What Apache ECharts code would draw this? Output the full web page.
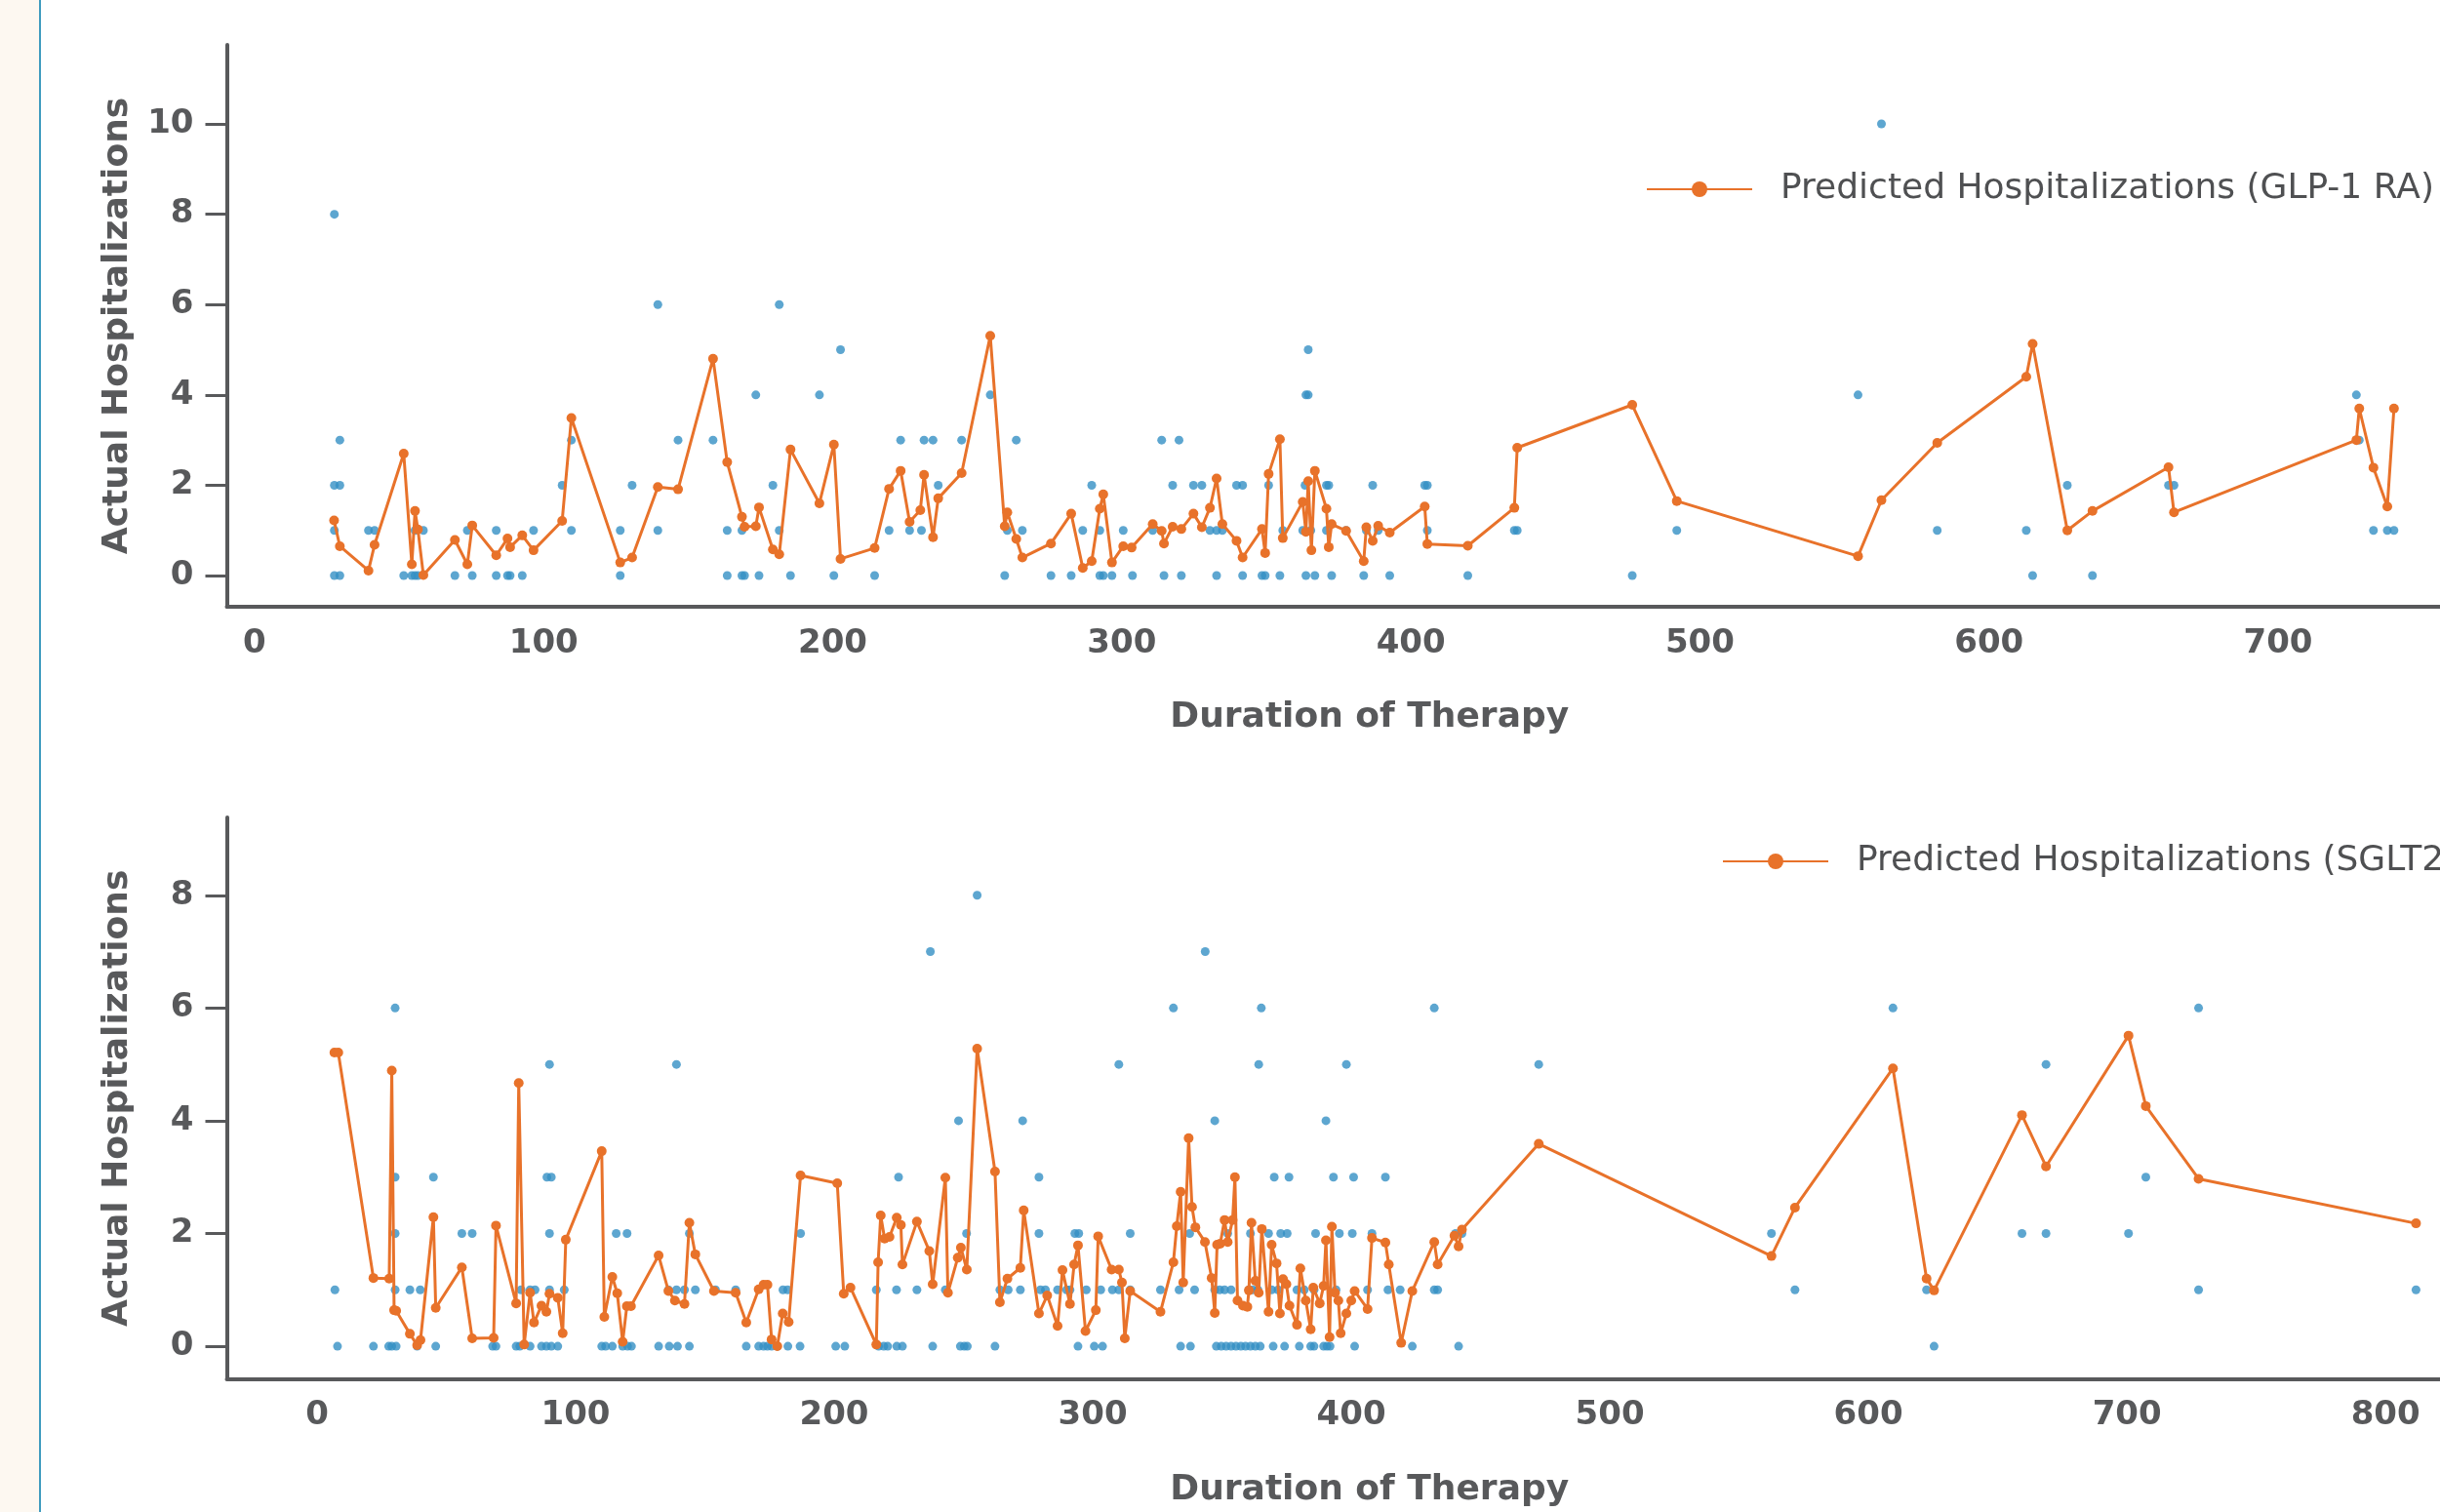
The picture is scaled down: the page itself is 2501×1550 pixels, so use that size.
<!DOCTYPE html>
<html>
<head>
<meta charset="utf-8">
<title>Actual vs Predicted Hospitalizations</title>
<script src="https://cdn.jsdelivr.net/npm/echarts@6/dist/echarts.min.js"></script>
<style>
    html, body { margin: 0; padding: 0; background: #ffffff; }
    #strip { position: absolute; left: 0; top: 0; width: 40px; height: 1550px; background: #fdf8f1; border-right: 2px solid #3f9bbf; }
    #main { position: absolute; left: 0; top: 0; width: 2501px; height: 1550px; }
</style>
</head>
<body>
<div id="strip"></div>
<div id="main"></div>
<script>
// GLP-1 RA - predicted line
var glpPredDays = [
    27.5, 29.5, 39.4, 41.5, 51.6, 54.4, 55.5, 56.5, 58.4, 69.3,
    73.6, 75.3, 83.6, 87.5, 88.4, 92.6, 96.5, 106.4, 109.6, 126.5,
    130.6, 139.5, 146.5, 158.6, 163.5, 168.6, 169.5, 173.4, 174.5, 179.3,
    181.5, 185.4, 195.4, 200.4, 202.7, 214.5, 219.5, 223.5, 226.6, 230.3,
    231.6, 234.7, 236.5, 244.6, 254.5, 259.5, 260.4, 263.5, 265.6, 275.5,
    282.5, 286.5, 289.6, 292.4, 293.6, 296.6, 300.5, 303.4, 310.7, 313.8,
    314.6, 317.6, 320.6, 324.8, 327.7, 330.5, 332.8, 334.8, 339.7, 341.8,
    348.5, 349.6, 350.8, 354.7, 355.7, 362.6, 363.7, 364.5, 365.6, 366.8,
    370.8, 371.6, 372.6, 377.6, 383.7, 384.6, 386.8, 388.7, 392.7, 404.8,
    405.7, 419.7, 435.8, 436.8, 476.6, 492.0, 554.7, 562.8, 582.1, 612.9,
    615.1, 627.1, 635.8, 662.1, 664.0, 727.1, 728.1, 733.0, 737.8, 740.1
];
var glpPredValues = [
    1.22, 0.65, 0.11, 0.68, 2.70, 0.25, 1.43, 1.02, 0.01, 0.79,
    0.25, 1.11, 0.45, 0.82, 0.63, 0.89, 0.56, 1.21, 3.49, 0.29,
    0.40, 1.96, 1.91, 4.80, 2.51, 1.30, 1.08, 1.09, 1.51, 0.58,
    0.47, 2.79, 1.60, 2.90, 0.37, 0.61, 1.92, 2.32, 1.19, 1.45,
    2.23, 0.85, 1.71, 2.27, 5.31, 1.09, 1.40, 0.81, 0.40, 0.71,
    1.37, 0.17, 0.32, 1.48, 1.80, 0.29, 0.65, 0.62, 1.14, 0.99,
    0.71, 1.08, 1.03, 1.37, 1.07, 1.50, 2.15, 1.14, 0.77, 0.40,
    1.03, 0.50, 2.25, 3.02, 0.83, 1.63, 0.97, 2.09, 0.56, 2.32,
    1.48, 0.63, 1.14, 0.99, 0.32, 1.07, 0.77, 1.10, 0.95, 1.53,
    0.70, 0.66, 1.50, 2.83, 3.78, 1.65, 0.43, 1.67, 2.94, 4.40,
    5.13, 1.00, 1.43, 2.40, 1.40, 3.00, 3.70, 2.39, 1.53, 3.70
];
// GLP-1 RA - actual points
var glpActualDays = [
    27.6, 27.6, 27.6, 27.6, 29.5, 29.5, 29.5, 39.4, 41.5, 51.6,
    54.4, 55.5, 55.5, 56.5, 58.4, 69.3, 73.6, 75.3, 83.6, 83.6,
    87.5, 88.4, 92.6, 96.5, 106.4, 109.6, 109.6, 126.5, 126.5, 130.6,
    139.5, 139.5, 146.5, 158.6, 163.5, 163.5, 168.6, 168.6, 169.5, 173.4,
    174.5, 179.3, 181.5, 181.5, 185.4, 195.4, 200.4, 202.7, 214.5, 219.5,
    223.5, 226.6, 230.7, 231.6, 234.7, 236.5, 244.6, 254.5, 259.5, 260.4,
    263.5, 265.6, 275.5, 282.5, 286.5, 289.6, 292.4, 292.4, 293.6, 296.6,
    300.5, 303.7, 310.7, 313.8, 314.6, 317.6, 319.8, 320.6, 324.8, 327.7,
    330.5, 332.8, 332.8, 334.8, 339.7, 341.8, 341.8, 348.5, 349.6, 350.8,
    354.7, 355.7, 362.6, 363.4, 363.7, 363.7, 364.5, 364.5, 365.4, 366.8,
    370.8, 370.8, 371.6, 372.6, 377.6, 383.7, 384.6, 386.8, 388.7, 392.7,
    404.8, 405.7, 405.7, 419.7, 435.8, 436.8, 476.6, 492.0, 554.7, 562.8,
    582.1, 612.9, 615.1, 627.1, 635.8, 662.1, 664.0, 727.1, 728.1, 733.0,
    737.8, 740.1
];
var glpActualCounts = [
    8, 2, 1, 0, 3, 2, 0, 1, 1, 0,
    0, 0, 1, 0, 1, 0, 1, 0, 1, 0,
    0, 0, 0, 1, 2, 3, 1, 1, 0, 2,
    6, 1, 3, 3, 1, 0, 0, 1, 0, 4,
    0, 2, 6, 1, 0, 4, 0, 5, 0, 1,
    3, 1, 1, 3, 3, 2, 3, 4, 0, 1,
    3, 1, 0, 0, 1, 2, 1, 0, 0, 0,
    1, 0, 1, 3, 0, 2, 3, 0, 2, 2,
    1, 1, 0, 1, 2, 2, 0, 0, 0, 2,
    0, 1, 1, 2, 4, 0, 5, 4, 1, 0,
    2, 1, 2, 0, 1, 0, 1, 2, 1, 0,
    2, 2, 1, 0, 1, 1, 0, 1, 4, 10,
    1, 1, 0, 2, 0, 2, 2, 4, 3, 1,
    1, 1
];

// SGLT2 - predicted line
var sgltPredDays = [
    6.7, 8.2, 21.8, 27.9, 28.9, 29.8, 30.6, 35.9, 38.7, 40.0,
    45.0, 45.9, 56.0, 60.0, 68.3, 69.2, 77.0, 78.0, 80.1, 82.4,
    83.9, 86.8, 88.7, 89.9, 93.1, 95.0, 96.2, 110.1, 111.1, 114.2,
    116.1, 118.2, 119.8, 121.4, 132.1, 135.9, 138.4, 142.1, 144.0, 146.3,
    153.5, 161.9, 166.0, 170.8, 172.7, 174.2, 175.8, 178.0, 180.1, 182.4,
    187.0, 201.2, 203.7, 206.3, 216.3, 217.0, 218.0, 219.5, 221.4, 224.2,
    225.8, 226.4, 232.0, 236.8, 238.1, 243.0, 244.0, 247.8, 249.0, 251.3,
    255.3, 262.2, 264.1, 267.0, 272.0, 273.3, 279.2, 282.4, 286.4, 288.3,
    291.2, 292.8, 294.3, 297.2, 301.2, 302.1, 307.3, 310.1, 311.3, 312.4,
    314.5, 326.2, 331.2, 332.5, 334.0, 335.0, 337.1, 338.4, 339.7, 343.4,
    346.0, 347.2, 348.1, 349.3, 351.0, 352.2, 354.1, 355.0, 356.0, 358.1,
    359.8, 360.4, 361.4, 362.9, 364.2, 365.4, 368.0, 369.2, 371.1, 372.4,
    373.6, 374.9, 376.1, 379.0, 380.3, 382.4, 384.3, 385.3, 387.8, 389.3,
    390.2, 391.6, 392.5, 393.7, 395.0, 395.9, 398.1, 400.0, 401.3, 406.3,
    408.0, 413.2, 414.5, 419.3, 423.6, 432.1, 433.4, 439.9, 441.5, 442.8,
    472.5, 562.5, 571.6, 609.5, 622.5, 625.4, 659.4, 668.7, 700.6, 707.3,
    727.7, 811.8
];
var sgltPredValues = [
    5.21, 5.21, 1.21, 1.20, 4.89, 0.64, 0.63, 0.22, 0.02, 0.11,
    2.29, 0.68, 1.40, 0.14, 0.15, 2.14, 0.76, 4.67, 0.03, 0.95,
    0.42, 0.72, 0.61, 0.93, 0.86, 0.23, 1.89, 3.46, 0.52, 1.23,
    0.94, 0.08, 0.71, 0.71, 1.61, 0.98, 0.81, 0.75, 2.19, 1.63,
    0.98, 0.95, 0.42, 1.01, 1.09, 1.09, 0.12, 0.00, 0.58, 0.43,
    3.03, 2.89, 0.93, 1.04, 0.03, 1.49, 2.32, 1.91, 1.94, 2.28,
    2.15, 1.45, 2.21, 1.69, 1.10, 2.99, 0.95, 1.57, 1.75, 1.36,
    5.28, 3.10, 0.78, 1.20, 1.39, 2.41, 0.58, 0.90, 0.36, 1.35,
    0.75, 1.45, 1.79, 0.27, 0.64, 1.95, 1.36, 1.36, 1.13, 0.14,
    0.98, 0.61, 1.49, 2.13, 2.74, 1.13, 3.69, 2.47, 2.11, 1.85,
    1.21, 0.59, 1.80, 1.82, 2.24, 1.85, 2.24, 3.00, 0.81, 0.72,
    0.70, 0.99, 2.19, 1.16, 0.95, 2.08, 0.61, 1.80, 1.47, 0.58,
    1.19, 1.10, 0.72, 0.38, 1.38, 0.81, 0.30, 1.04, 0.76, 1.07,
    1.88, 0.16, 2.12, 0.95, 0.81, 0.23, 0.58, 0.81, 0.98, 0.66,
    1.92, 1.84, 1.45, 0.06, 0.98, 1.85, 1.45, 1.96, 1.77, 2.07,
    3.59, 1.60, 2.46, 4.93, 1.20, 0.99, 4.10, 3.19, 5.51, 4.26,
    2.97, 2.18
];
// SGLT2 - actual points
var sgltActualDays = [
    6.9, 7.9, 21.8, 27.7, 28.9, 30.2, 30.2, 30.2, 30.2, 30.6,
    35.9, 38.7, 39.9, 45.0, 45.9, 56.0, 60.0, 67.9, 69.2, 77.0,
    78.4, 78.9, 82.4, 82.4, 84.3, 86.8, 88.7, 88.9, 89.9, 89.9,
    89.9, 90.6, 90.6, 93.1, 95.6, 110.1, 111.6, 114.2, 115.7, 118.2,
    119.9, 120.1, 121.6, 132.1, 135.9, 136.2, 139.0, 139.0, 139.4, 142.1,
    144.0, 144.0, 146.3,
    154.1, 161.9, 166.0, 170.8, 172.7, 174.2, 175.8, 178.0, 180.2, 182.0,
    182.1, 186.8, 187.0, 200.6, 204.1, 216.3, 217.2, 219.2, 220.7, 224.1,
    224.2, 224.9, 226.4, 232.0, 237.2, 238.1, 243.0, 248.1, 248.8, 250.3,
    251.2, 251.5, 255.3, 262.2, 264.1, 267.3, 272.0, 272.9, 279.2, 279.2,
    279.8, 281.7, 286.4, 289.9, 291.2, 293.1, 294.3, 294.6, 297.5, 300.6,
    303.1,
    303.8, 307.6, 310.1, 310.1, 314.5, 314.5, 326.2, 331.2, 333.4, 334.0,
    337.5, 337.8, 339.4, 343.5, 347.2, 347.2, 347.8, 349.1, 349.7, 351.0,
    351.6, 352.2, 353.5, 353.5, 355.4, 357.3, 359.1, 360.4, 361.0, 361.0,
    361.9, 362.9, 363.9, 364.2, 364.8, 365.2, 368.0, 369.2, 369.8, 370.2,
    371.7, 372.7, 374.2, 375.2, 375.9, 379.0, 379.9, 381.8, 384.3, 385.6,
    385.6, 386.2, 389.3, 390.2, 390.6, 391.8, 393.1, 394.1, 395.4, 398.1,
    400.4, 400.9, 401.3, 406.3, 408.0, 413.2, 414.2, 418.9, 423.6, 432.1,
    432.1, 433.4, 440.3, 441.5, 442.8,
    472.5, 562.5, 571.6, 609.5, 622.5, 625.4, 659.4, 668.7, 668.7, 700.6,
    707.3, 727.7, 727.7, 811.8
];
var sgltActualCounts = [
    1, 0, 0, 0, 0, 6, 3, 2, 1, 0,
    1, 0, 1, 3, 0, 2, 2, 0, 0, 0,
    0, 1, 1, 0, 1, 0, 0, 3, 5, 2,
    1, 3, 0, 0, 1, 0, 0, 0, 2, 0,
    2, 0, 0, 0, 1, 0, 5, 1, 0, 1,
    2, 0, 1,
    1, 1, 0, 0, 0, 0, 0, 0, 1, 1,
    0, 0, 2, 0, 0, 1, 0, 0, 0, 1,
    0, 3, 0, 1, 7, 0, 1, 4, 0, 0,
    2, 0, 8, 0, 1, 1, 1, 4, 3, 2,
    1, 1, 1, 1, 1, 2, 0, 2, 1, 0,
    1,
    0, 1, 5, 1, 2, 1, 1, 6, 1, 0,
    2, 0, 1, 7, 4, 1, 0, 1, 0, 1,
    0, 2, 1, 0, 0, 0, 0, 1, 2, 0,
    1, 0, 1, 5, 0, 6, 2, 1, 0, 3,
    1, 2, 0, 2, 3, 1, 0, 1, 0, 1,
    0, 2, 0, 4, 0, 0, 3, 1, 2, 5,
    2, 3, 0, 1, 2, 3, 1, 1, 0, 6,
    1, 1, 2, 0, 2,
    5, 2, 1, 6, 1, 0, 2, 5, 2, 2,
    3, 6, 1, 1
];

// tick labels
var topXTicks = [0, 100, 200, 300, 400, 500, 600, 700];
var topYTicks = [0, 2, 4, 6, 8, 10];
var bottomXTicks = [0, 100, 200, 300, 400, 500, 600, 700, 800];
var bottomYTicks = [0, 2, 4, 6, 8];

var glpName = 'Predicted Hospitalizations (GLP-1 RA)';
var sgltName = 'Predicted Hospitalizations (SGLT2i)';

var grey = '#58595b';
var blue = '#3590c4';
var orange = '#e8722a';
var font = '"DejaVu Sans", sans-serif';

//把两个数组拼成 [x, y]
function pairs(xs, ys) {
    var out = [];
    for (var i = 0; i < xs.length; i++) {
        out.push([xs[i], ys[i]]);
    }
    return out;
}

function makeXAxis(gridIndex, min, max, ticks) {
    return {
        gridIndex: gridIndex,
        type: 'value',
        min: min,
        max: max,
        name: 'Duration of Therapy',
        nameLocation: 'middle',
        nameGap: 96,
        nameTextStyle: { color: grey, fontSize: 36, fontWeight: 'bold', fontFamily: font },
        axisLine: { show: true, onZero: false, lineStyle: { color: grey, width: 4 } },
        axisTick: { show: false },
        axisLabel: { customValues: ticks, margin: 21, color: grey, fontSize: 34, fontWeight: 'bold', fontFamily: font },
        splitLine: { show: false }
    };
}

function makeYAxis(gridIndex, min, max, ticks) {
    return {
        gridIndex: gridIndex,
        type: 'value',
        min: min,
        max: max,
        name: 'Actual Hospitalizations',
        nameLocation: 'middle',
        nameGap: 94,
        nameTextStyle: { color: grey, fontSize: 36, fontWeight: 'bold', fontFamily: font },
        axisLine: { show: true, onZero: false, lineStyle: { color: grey, width: 4 } },
        axisTick: { show: true, customValues: ticks, length: 22, lineStyle: { color: grey, width: 3 } },
        axisLabel: { customValues: ticks, margin: 34, color: grey, fontSize: 34, fontWeight: 'bold', fontFamily: font },
        splitLine: { show: false }
    };
}

function makeLegend(name, left, top) {
    return {
        data: [name],
        left: left,
        top: top,
        itemWidth: 108,
        itemHeight: 20,
        selectedMode: false,
        textStyle: { color: '#4f5052', fontSize: 36, fontFamily: font, padding: [0, 0, 0, 24] }
    };
}

var myChart = echarts.init(document.getElementById('main'), null, { renderer: 'canvas' });

// 图表比画布宽, 右边被裁掉
var option = {
    animation: false,
    grid: [
        { left: 232.5, top: 46, width: 2342.5, height: 576, outerBoundsMode: 'none', containLabel: false },
        { left: 232.5, top: 838, width: 2342.5, height: 575.6, outerBoundsMode: 'none', containLabel: false }
    ],
    legend: [
        makeLegend(glpName, 1682, 171),
        makeLegend(sgltName, 1760, 860)
    ],
    xAxis: [
        makeXAxis(0, -9.6, 781, topXTicks),
        makeXAxis(1, -34.9, 849, bottomXTicks)
    ],
    yAxis: [
        makeYAxis(0, -0.69, 11.75, topYTicks),
        makeYAxis(1, -0.58, 9.38, bottomYTicks)
    ],
    series: [
        {
            name: 'Actual Hospitalizations (GLP-1 RA)',
            type: 'scatter',
            xAxisIndex: 0,
            yAxisIndex: 0,
            symbolSize: 9,
            itemStyle: { color: blue },
            z: 2,
            data: pairs(glpActualDays, glpActualCounts)
        },
        {
            name: glpName,
            type: 'line',
            xAxisIndex: 0,
            yAxisIndex: 0,
            symbol: 'circle',
            symbolSize: 10,
            itemStyle: { color: orange },
            lineStyle: { color: orange, width: 3 },
            z: 3,
            data: pairs(glpPredDays, glpPredValues)
        },
        {
            name: 'Actual Hospitalizations (SGLT2i)',
            type: 'scatter',
            xAxisIndex: 1,
            yAxisIndex: 1,
            symbolSize: 9,
            itemStyle: { color: blue },
            z: 2,
            data: pairs(sgltActualDays, sgltActualCounts)
        },
        {
            name: sgltName,
            type: 'line',
            xAxisIndex: 1,
            yAxisIndex: 1,
            symbol: 'circle',
            symbolSize: 10,
            itemStyle: { color: orange },
            lineStyle: { color: orange, width: 3 },
            z: 3,
            data: pairs(sgltPredDays, sgltPredValues)
        }
    ]
};

myChart.setOption(option);
</script>
</body>
</html>
